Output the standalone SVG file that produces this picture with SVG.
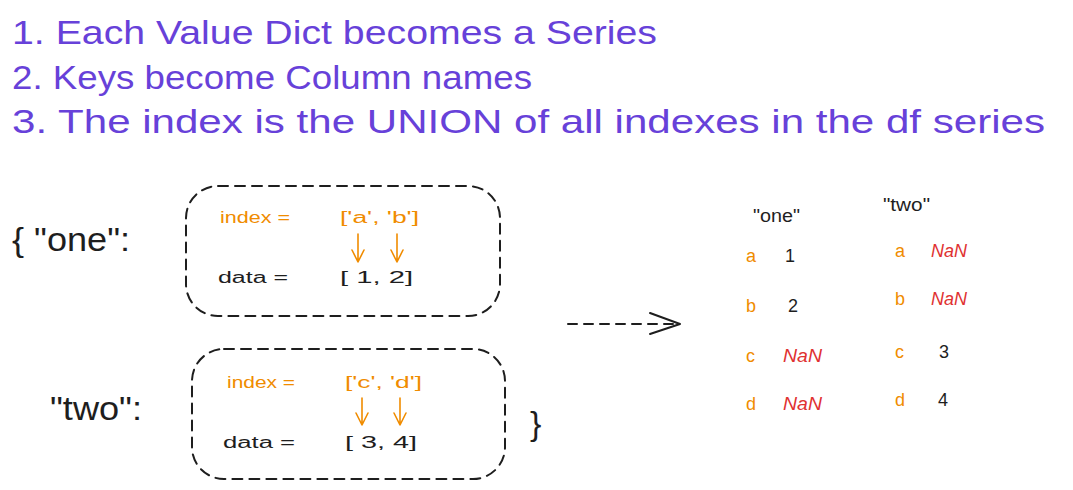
<svg xmlns="http://www.w3.org/2000/svg" width="1073" height="490" viewBox="0 0 1073 490">
<style>
.t{font-family:"Liberation Sans",Arial,sans-serif}
.title{font-size:33px;fill:#6741d9}
.big{font-size:34px;fill:#1e1e1e}
.box{fill:none;stroke:#1e1e1e;stroke-width:2;stroke-dasharray:10 7;stroke-linecap:round}
.or{fill:#f08c00;font-size:16px}
.bk{fill:#1e1e1e;font-size:16px}
.oarr{fill:none;stroke:#f08c00;stroke-width:1.6;stroke-linecap:round;stroke-linejoin:round}
.tor{fill:#f08c00;font-size:18px}
.tbk{fill:#1e1e1e;font-size:18px}
.trd{fill:#e03131;font-size:18px;font-style:italic}
</style>
<rect width="1073" height="490" fill="#ffffff"/>
<g id="title">
<text class="t title" x="12" y="44" textLength="645" lengthAdjust="spacingAndGlyphs">1. Each Value Dict becomes a Series</text>
<text class="t title" x="12" y="89" textLength="520" lengthAdjust="spacingAndGlyphs">2. Keys become Column names</text>
<text class="t title" x="12" y="133" textLength="1033" lengthAdjust="spacingAndGlyphs">3. The index is the UNION of all indexes in the df series</text>
</g>
<g id="key-one">
<text class="t big" x="12" y="251" textLength="118" lengthAdjust="spacingAndGlyphs">{ "one":</text>
</g>
<g id="box-one">
<rect class="box" x="186" y="186" width="314" height="130" rx="32"/>
<text class="t or" x="220" y="223" textLength="70" lengthAdjust="spacingAndGlyphs">index =</text>
<text class="t or" x="340" y="223" textLength="79" lengthAdjust="spacingAndGlyphs">['a', 'b']</text>
<text class="t bk" x="218" y="283" textLength="70" lengthAdjust="spacingAndGlyphs">data =</text>
<text class="t bk" x="340" y="283" textLength="73" lengthAdjust="spacingAndGlyphs">[ 1,  2]</text>
</g>
<g id="key-two">
<text class="t big" x="50" y="420" textLength="92" lengthAdjust="spacingAndGlyphs">"two":</text>
</g>
<g id="box-two">
<rect class="box" x="192" y="349" width="313" height="130" rx="32"/>
<text class="t or" x="227" y="388" textLength="68" lengthAdjust="spacingAndGlyphs">index =</text>
<text class="t or" x="345" y="388" textLength="77" lengthAdjust="spacingAndGlyphs">['c', 'd']</text>
<text class="t bk" x="223" y="448" textLength="72" lengthAdjust="spacingAndGlyphs">data =</text>
<text class="t bk" x="345" y="448" textLength="72" lengthAdjust="spacingAndGlyphs">[ 3, 4]</text>
</g>
<g id="close-brace">
<text class="t big" x="530" y="435">}</text>
</g>
<g id="result-one">
<text class="t tbk" x="753" y="222" textLength="47" lengthAdjust="spacingAndGlyphs">"one"</text>
<text class="t tor" x="746" y="262">a</text>
<text class="t tbk" x="785" y="262">1</text>
<text class="t tor" x="746" y="312">b</text>
<text class="t tbk" x="788" y="312">2</text>
<text class="t tor" x="746" y="362">c</text>
<text class="t trd" x="783" y="362" textLength="39" lengthAdjust="spacingAndGlyphs">NaN</text>
<text class="t tor" x="746" y="410">d</text>
<text class="t trd" x="783" y="410" textLength="39" lengthAdjust="spacingAndGlyphs">NaN</text>
</g>
<g id="result-two">
<text class="t tbk" x="883" y="211" textLength="47" lengthAdjust="spacingAndGlyphs">"two"</text>
<text class="t tor" x="895" y="257">a</text>
<text class="t trd" x="931" y="257" textLength="36" lengthAdjust="spacingAndGlyphs">NaN</text>
<text class="t tor" x="895" y="305">b</text>
<text class="t trd" x="931" y="305" textLength="36" lengthAdjust="spacingAndGlyphs">NaN</text>
<text class="t tor" x="895" y="358">c</text>
<text class="t tbk" x="939" y="358">3</text>
<text class="t tor" x="895" y="406">d</text>
<text class="t tbk" x="938" y="406">4</text>
</g>
<g id="connectors">
<path class="oarr" d="M358 234 L358 262 M352 250 L358 262 L364 250"/>
<path class="oarr" d="M397 234 L397 262 M391 250 L397 262 L403 250"/>
<path class="oarr" d="M362 398 L362 425 M356 413 L362 425 L368 413"/>
<path class="oarr" d="M400 398 L400 425 M394 413 L400 425 L406 413"/>
<path d="M568 324 L678 324" fill="none" stroke="#1e1e1e" stroke-width="2" stroke-dasharray="9 7" stroke-linecap="round"/>
<path d="M650 313 L680 324 L650 334" fill="none" stroke="#1e1e1e" stroke-width="2" stroke-linecap="round" stroke-linejoin="round"/>
</g>
</svg>
